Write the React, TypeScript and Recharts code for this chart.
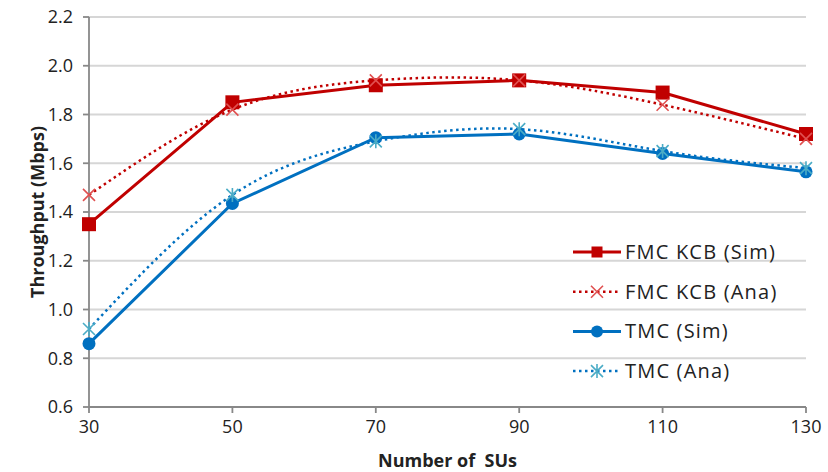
import { CartesianGrid, Line, LineChart, XAxis, YAxis } from "recharts"

const numSUs = [30, 50, 70, 90, 110, 130]
const fmcSim = [1.35, 1.85, 1.92, 1.94, 1.89, 1.72]
const fmcAna = [1.47, 1.82, 1.94, 1.94, 1.84, 1.7]
const tmcSim = [0.86, 1.435, 1.705, 1.72, 1.64, 1.565]
const tmcAna = [0.92, 1.47, 1.69, 1.74, 1.65, 1.58]
const yTicks = [0.6, 0.8, 1.0, 1.2, 1.4, 1.6, 1.8, 2.0, 2.2]

const data = numSUs.map((n, i) => ({
  n,
  fmcSim: fmcSim[i],
  fmcAna: fmcAna[i],
  tmcSim: tmcSim[i],
  tmcAna: tmcAna[i],
}))

const RED = "#c00000"
const RED_LIGHT = "#e05050"
const BLUE = "#0070c0"
const CYAN = "#4bacc6"
const FONT = "'Open Sans', sans-serif"
const DOTS = "2.5 3.5"

const Square = ({ cx, cy, size = 14 }: any) =>
  cx == null ? null : (
    <rect x={cx - size / 2} y={cy - size / 2} width={size} height={size} fill={RED} />
  )

const Cross = ({ cx, cy }: any) =>
  cx == null ? null : (
    <path
      d={`M${cx - 6},${cy - 6}L${cx + 6},${cy + 6}M${cx - 6},${cy + 6}L${cx + 6},${cy - 6}`}
      stroke={RED_LIGHT}
      strokeWidth={1.6}
      fill="none"
    />
  )

const Dot = ({ cx, cy, size = 6.5 }: any) =>
  cx == null ? null : <circle cx={cx} cy={cy} r={size} fill={BLUE} />

const Star = ({ cx, cy }: any) =>
  cx == null ? null : (
    <path
      d={`M${cx - 6},${cy - 6}L${cx + 6},${cy + 6}M${cx - 6},${cy + 6}L${cx + 6},${cy - 6}M${cx},${cy - 7}L${cx},${cy + 7}`}
      stroke={CYAN}
      strokeWidth={1.6}
      fill="none"
    />
  )

const legendItems = [
  { label: "FMC KCB (Sim)", color: RED, dash: undefined, mark: (x: number, y: number) => <Square cx={x} cy={y} size={11} /> },
  { label: "FMC KCB (Ana)", color: RED, dash: DOTS, mark: (x: number, y: number) => <Cross cx={x} cy={y} /> },
  { label: "TMC (Sim)", color: BLUE, dash: undefined, mark: (x: number, y: number) => <Dot cx={x} cy={y} size={6} /> },
  { label: "TMC (Ana)", color: BLUE, dash: DOTS, mark: (x: number, y: number) => <Star cx={x} cy={y} /> },
]

function ChartLegend() {
  return (
    <svg
      width={250}
      height={160}
      style={{ position: "absolute", left: 570, top: 232 }}
    >
      {legendItems.map((it, i) => {
        const y = 20 + i * 39.7
        return (
          <g key={it.label}>
            <line
              x1={3}
              x2={51}
              y1={y}
              y2={y}
              stroke={it.color}
              strokeWidth={it.dash ? 2.5 : 3}
              strokeDasharray={it.dash}
            />
            {it.mark(27, y)}
            <text
              x={55}
              y={y + 7}
              fontSize={20}
              letterSpacing={1.2}
              fill="#222"
              fontFamily={FONT}
            >
              {it.label}
            </text>
          </g>
        )
      })}
    </svg>
  )
}

export default function App() {
  return (
    <div
      style={{
        position: "absolute",
        left: 0,
        top: 0,
        width: 828,
        height: 472,
        background: "#fff",
      }}
    >
      <LineChart
        width={828}
        height={472}
        data={data}
        margin={{ top: 17, right: 22, left: 0, bottom: 5 }}
      >
        <CartesianGrid vertical={false} stroke="#d6d6d6" strokeWidth={1.8} />
        <XAxis
          dataKey="n"
          type="number"
          domain={[30, 130]}
          ticks={numSUs}
          stroke="#888"
          strokeWidth={1.8}
          tickSize={6}
          tickMargin={7}
          height={60}
          tick={{ fontSize: 18, fill: "#222", fontFamily: FONT }}
          label={{
            value: "Number of\u00a0 SUs",
            position: "insideBottom",
            offset: 0,
            fontSize: 18,
            fontWeight: 700,
            fill: "#222",
            fontFamily: FONT,
          }}
        />
        <YAxis
          domain={[0.6, 2.2]}
          ticks={yTicks}
          tickFormatter={(v) => v.toFixed(1)}
          stroke="#888"
          strokeWidth={1.8}
          tickSize={6}
          tickMargin={10}
          width={89}
          tick={{ fontSize: 18, fill: "#222", fontFamily: FONT }}
          label={{
            value: "Throughput (Mbps)",
            angle: -90,
            position: "insideLeft",
            offset: 38,
            textAnchor: "middle",
            fontSize: 18,
            fontWeight: 700,
            fill: "#222",
            fontFamily: FONT,
          }}
        />
        <Line
          dataKey="fmcSim"
          name="FMC KCB (Sim)"
          stroke={RED}
          strokeWidth={3}
          dot={<Square />}
          isAnimationActive={false}
        />
        <Line
          dataKey="fmcAna"
          name="FMC KCB (Ana)"
          type="natural"
          stroke={RED}
          strokeWidth={2.5}
          strokeDasharray={DOTS}
          dot={<Cross />}
          isAnimationActive={false}
        />
        <Line
          dataKey="tmcSim"
          name="TMC (Sim)"
          stroke={BLUE}
          strokeWidth={3}
          dot={<Dot />}
          isAnimationActive={false}
        />
        <Line
          dataKey="tmcAna"
          name="TMC (Ana)"
          type="natural"
          stroke={BLUE}
          strokeWidth={2.5}
          strokeDasharray={DOTS}
          dot={<Star />}
          isAnimationActive={false}
        />
      </LineChart>
      <ChartLegend />
    </div>
  )
}
